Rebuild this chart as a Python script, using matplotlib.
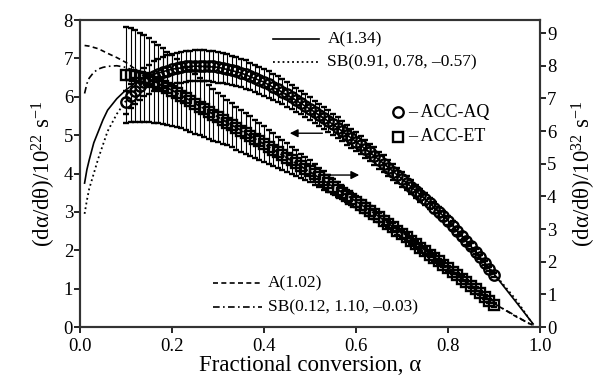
import matplotlib
matplotlib.use("Agg")
import matplotlib.pyplot as plt
import numpy as np

plt.rcParams['font.family'] = ['Liberation Serif', 'DejaVu Serif']
plt.rcParams['mathtext.fontset'] = 'custom'
plt.rcParams['mathtext.rm'] = 'Liberation Serif'
plt.rcParams['mathtext.it'] = 'Liberation Serif:italic'

# fractional conversion of the measured points (0.10 ... 0.90)
alpha = [round(0.10 + 0.01 * i, 2) for i in range(81)]

# ACC-AQ, left axis (10^22 s^-1)
aq = [5.86, 6.02, 6.16, 6.28, 6.38, 6.46, 6.53, 6.59, 6.64, 6.68,
      6.72, 6.75, 6.77, 6.79, 6.80, 6.81, 6.81, 6.81, 6.80, 6.79,
      6.77, 6.75, 6.72, 6.69, 6.66, 6.62, 6.58, 6.53, 6.48, 6.43,
      6.38, 6.32, 6.26, 6.20, 6.13, 6.06, 5.99, 5.92, 5.85, 5.77,
      5.69, 5.61, 5.53, 5.45, 5.37, 5.28, 5.19, 5.10, 5.01, 4.92,
      4.83, 4.74, 4.64, 4.55, 4.45, 4.35, 4.25, 4.15, 4.05, 3.95,
      3.85, 3.75, 3.64, 3.54, 3.43, 3.33, 3.22, 3.11, 3.00, 2.89,
      2.77, 2.64, 2.51, 2.38, 2.24, 2.10, 1.96, 1.82, 1.67, 1.52,
      1.36]
aq_err = [0.30, 0.32, 0.34, 0.36, 0.37, 0.38, 0.39, 0.40, 0.40, 0.40,
          0.40, 0.40, 0.40, 0.40, 0.40, 0.40, 0.40, 0.40, 0.40, 0.40,
          0.40, 0.39, 0.39, 0.38, 0.38, 0.37, 0.37, 0.36, 0.36, 0.35,
          0.35, 0.34, 0.34, 0.33, 0.33, 0.32, 0.32, 0.31, 0.31, 0.30,
          0.30, 0.29, 0.29, 0.28, 0.28, 0.27, 0.27, 0.26, 0.26, 0.25,
          0.25, 0.24, 0.24, 0.23, 0.23, 0.22, 0.22, 0.21, 0.21, 0.20,
          0.20, 0.19, 0.18, 0.17, 0.17, 0.16, 0.15, 0.14, 0.14, 0.13,
          0.12, 0.11, 0.10, 0.10, 0.09, 0.08, 0.07, 0.06, 0.06, 0.05,
          0.05]

# ACC-ET, right axis (10^32 s^-1)
et = [7.73, 7.71, 7.68, 7.65, 7.61, 7.56, 7.50, 7.44, 7.38, 7.31,
      7.24, 7.16, 7.08, 7.00, 6.92, 6.83, 6.75, 6.67, 6.59, 6.50,
      6.42, 6.34, 6.26, 6.18, 6.09, 6.01, 5.93, 5.85, 5.76, 5.68,
      5.60, 5.52, 5.43, 5.35, 5.26, 5.18, 5.10, 5.01, 4.93, 4.85,
      4.77, 4.68, 4.58, 4.49, 4.40, 4.30, 4.21, 4.11, 4.02, 3.92,
      3.83, 3.74, 3.64, 3.55, 3.45, 3.36, 3.26, 3.16, 3.05, 2.95,
      2.85, 2.75, 2.64, 2.54, 2.43, 2.33, 2.22, 2.12, 2.01, 1.91,
      1.80, 1.69, 1.59, 1.48, 1.37, 1.26, 1.15, 1.04, 0.92, 0.80,
      0.67]
et_err = [1.47, 1.44, 1.40, 1.36, 1.32, 1.28, 1.24, 1.20, 1.16, 1.12,
          1.08, 1.04, 1.00, 0.97, 0.94, 0.91, 0.88, 0.85, 0.82, 0.79,
          0.76, 0.73, 0.70, 0.68, 0.66, 0.64, 0.62, 0.60, 0.58, 0.56,
          0.54, 0.52, 0.50, 0.48, 0.46, 0.44, 0.42, 0.40, 0.38, 0.36,
          0.34, 0.32, 0.30, 0.28, 0.26, 0.24, 0.22, 0.20, 0.19, 0.18,
          0.17, 0.16, 0.15, 0.15, 0.14, 0.14, 0.13, 0.13, 0.12, 0.12,
          0.11, 0.11, 0.10, 0.10, 0.10, 0.09, 0.09, 0.09, 0.08, 0.08,
          0.08, 0.07, 0.07, 0.07, 0.06, 0.06, 0.06, 0.05, 0.05, 0.05,
          0.05]

# fitted model curves
fit_a = [0.01, 0.015, 0.02, 0.03, 0.04, 0.05, 0.06, 0.08, 0.10, 0.125,
         0.15, 0.20, 0.25, 0.30, 0.35, 0.40, 0.45, 0.50, 0.55, 0.60,
         0.65, 0.70, 0.75, 0.80, 0.85, 0.90, 0.95, 0.985]
a134 = [3.75, 4.10, 4.35, 4.80, 5.10, 5.40, 5.65, 5.95, 6.18, 6.40,
        6.55, 6.72, 6.80, 6.77, 6.62, 6.38, 6.05, 5.68, 5.28, 4.83,
        4.36, 3.86, 3.34, 2.78, 2.10, 1.38, 0.62, 0.08]
sb_aq = [2.95, 3.30, 3.60, 4.00, 4.40, 4.75, 5.10, 5.55, 5.90, 6.25,
         6.48, 6.70, 6.80, 6.77, 6.62, 6.38, 6.05, 5.68, 5.28, 4.83,
         4.36, 3.86, 3.34, 2.78, 2.10, 1.40, 0.68, 0.06]
a102 = [8.62, 8.61, 8.60, 8.56, 8.52, 8.45, 8.38, 8.25, 8.10, 7.85,
        7.55, 7.25, 6.85, 6.43, 6.02, 5.60, 5.18, 4.75, 4.30, 3.85,
        3.38, 2.87, 2.35, 1.82, 1.28, 0.72, 0.30, 0.05]
sb_et = [7.15, 7.45, 7.62, 7.80, 7.90, 7.95, 7.98, 8.00, 7.95, 7.80,
         7.60, 7.25, 6.85, 6.43, 6.02, 5.60, 5.18, 4.75, 4.30, 3.85,
         3.38, 2.87, 2.35, 1.82, 1.28, 0.72, 0.32, 0.03]

fig = plt.figure(figsize=(6.05, 3.81), dpi=100)
ax = fig.add_axes([0.1322, 0.1417, 0.7604, 0.8058])
ax2 = ax.twinx()

ax.plot(fit_a, a134, '-', color='black', lw=1.2)
ax.plot(fit_a, sb_aq, ':', color='black', lw=1.3)
ax2.plot(fit_a, a102, '--', color='black', lw=1.2, dashes=(3, 2))
ax2.plot(fit_a, sb_et, '-.', color='black', lw=1.2, dashes=(4, 2, 1, 2))

ax.errorbar(alpha, aq, yerr=aq_err, fmt='o', ms=7.5, mfc='none', mec='black',
            mew=1.7, ecolor='black', elinewidth=0.8, capsize=2.5, capthick=0.8)
ax2.errorbar(alpha, et, yerr=et_err, fmt='s', ms=7, mfc='none', mec='black',
             mew=1.7, ecolor='black', elinewidth=0.8, capsize=2.5, capthick=0.8)

ax.set_xlim(0, 1)
ax.set_ylim(0, 8)
ax2.set_ylim(0, 9.4)
ax.set_xticks([0.0, 0.2, 0.4, 0.6, 0.8, 1.0])
ax.set_xticklabels(['0.0', '0.2', '0.4', '0.6', '0.8', '1.0'])
ax.set_yticks(range(9))
ax2.set_yticks(range(10))

for a in (ax, ax2):
    for s in a.spines.values():
        s.set_linewidth(1.5)
        s.set_color('#333333')
    a.tick_params(direction='out', length=4, width=1.2, labelsize=13.5, pad=1)
ax.tick_params(axis='x', pad=4)

ax.set_xlabel('Fractional conversion, α', fontsize=16.5, labelpad=0)
ax.set_ylabel('(dα/dθ)/10$^{22}$ s$^{-1}$', fontsize=16.5, labelpad=4)
ax2.set_ylabel('(dα/dθ)/10$^{32}$ s$^{-1}$', fontsize=16.5, labelpad=10)

# legend for the fitted curves
tr = ax.transAxes
ax.plot([0.42, 0.52], [0.938, 0.938], '-', color='black', lw=1.2, transform=tr)
ax.plot([0.42, 0.52], [0.863, 0.863], ':', color='black', lw=1.3, transform=tr)
ax.text(0.538, 0.938, 'A(1.34)', transform=tr, fontsize=12.5, va='center')
ax.text(0.538, 0.863, 'SB(0.91, 0.78, –0.57)', transform=tr, fontsize=12.5, va='center')
ax.plot([0.289, 0.396], [0.143, 0.143], '--', color='black', lw=1.2, dashes=(3, 2), transform=tr)
ax.plot([0.289, 0.396], [0.065, 0.065], '-.', color='black', lw=1.2, dashes=(4, 2, 1, 2), transform=tr)
ax.text(0.409, 0.143, 'A(1.02)', transform=tr, fontsize=12.5, va='center')
ax.text(0.409, 0.065, 'SB(0.12, 1.10, –0.03)', transform=tr, fontsize=12.5, va='center')

# legend for the samples
ax.plot([0.691], [0.700], 'o', ms=7.5, mfc='none', mec='black', mew=1.7, transform=tr, clip_on=False)
ax.plot([0.691], [0.619], 's', ms=7, mfc='none', mec='black', mew=1.7, transform=tr, clip_on=False)
ax.text(0.714, 0.700, '– ACC-AQ', transform=tr, fontsize=13, va='center')
ax.text(0.714, 0.619, '– ACC-ET', transform=tr, fontsize=13, va='center')

# arrows telling which axis each series uses
ax.annotate('', xy=(0.45, 5.05), xytext=(0.533, 5.05),
            arrowprops=dict(arrowstyle='-|>', color='black', lw=1.0, mutation_scale=12))
ax.annotate('', xy=(0.613, 3.96), xytext=(0.539, 3.96),
            arrowprops=dict(arrowstyle='-|>', color='black', lw=1.0, mutation_scale=12))

fig.savefig('out.png', dpi=100)
